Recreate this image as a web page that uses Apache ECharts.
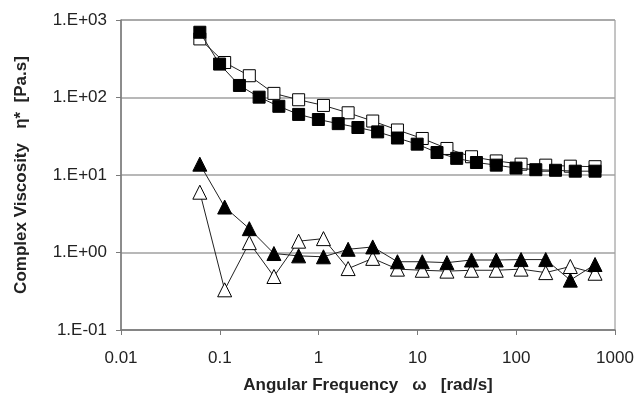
<!DOCTYPE html>
<html>
<head>
<meta charset="utf-8">
<script src="https://cdn.jsdelivr.net/npm/echarts@6/dist/echarts.min.js"></script>
<style>
  html, body { margin: 0; padding: 0; background: #fff; }
  #main { width: 637px; height: 399px; }
</style>
</head>
<body>
<div id="main"></div>
<script>
// angular frequencies (rad/s)
var freqFine = [0.0628, 0.0995, 0.158, 0.250, 0.396, 0.628, 0.995, 1.58, 2.50, 3.96, 6.28,
    9.95, 15.8, 25.0, 39.6, 62.8, 99.5, 158, 250, 396, 628];
var freqCoarse = [0.0628, 0.112, 0.199, 0.353, 0.628, 1.12, 1.99, 3.53, 6.28,
    11.2, 19.9, 35.3, 62.8, 112, 199, 353, 628];

// complex viscosity (Pa.s)
var filledSquares = [695, 270, 143, 101, 77, 60.5, 52, 46, 41, 36, 30,
    25, 19.5, 16.4, 14.5, 13.4, 12.3, 11.7, 11.5, 11.2, 11.2];
var openSquares = [570, 283, 191, 113, 93.5, 79, 63.5, 49.7, 38.1,
    29.6, 22.0, 17.2, 15.2, 13.8, 13.4, 13.0, 12.8];
var filledTriangles = [13.8, 3.86, 2.03, 0.97, 0.905, 0.88, 1.10, 1.18, 0.76,
    0.76, 0.74, 0.80, 0.80, 0.81, 0.81, 0.44, 0.70];
var openTriangles = [6.0, 0.33, 1.34, 0.49, 1.40, 1.51, 0.62, 0.84, 0.61,
    0.59, 0.575, 0.59, 0.59, 0.61, 0.55, 0.66, 0.54];

var xTickLabels = ['0.01', '0.1', '1', '10', '100', '1000'];

function pairs(xs, ys) {
    var r = [];
    for (var i = 0; i < ys.length; i++) {
        r.push([xs[i], ys[i]]);
    }
    return r;
}

function sciLabel(v) {
    var e = Math.round(Math.log10(v));
    var s = Math.abs(e) < 10 ? '0' + Math.abs(e) : '' + Math.abs(e);
    return '1.E' + (e < 0 ? '-' : '+') + s;
}

function makeSeries(data, symbol, filled, z) {
    return {
        type: 'line',
        data: data,
        symbol: symbol,
        symbolSize: symbol == 'rect' ? 12 : 14,
        showAllSymbol: true,
        z: z,
        lineStyle: { color: '#222', width: 1 },
        itemStyle: {
            color: filled ? '#000' : '#fff',
            borderColor: '#000',
            borderWidth: 1
        },
        emphasis: { disabled: true },
        animation: false
    };
}

var font = 'Arial, "Liberation Sans", sans-serif';
var myChart = echarts.init(document.getElementById('main'));

var option = {
    backgroundColor: '#fff',
    animation: false,
    grid: {
        left: 121,
        right: 22,
        top: 20,
        bottom: 67,
        show: true,
        borderColor: '#8a8a8a',
        borderWidth: 1
    },
    xAxis: {
        type: 'log',
        logBase: 10,
        min: 0.01,
        max: 1000,
        name: 'Angular Frequency   \u03c9   [rad/s]',
        nameLocation: 'middle',
        nameGap: 47,
        nameTextStyle: { fontFamily: font, fontSize: 17, fontWeight: 'bold', color: '#222' },
        axisLine: { lineStyle: { color: '#7a7a7a', width: 1.5 } },
        axisTick: { show: true, inside: false, length: 5, lineStyle: { color: '#7a7a7a' } },
        minorTick: { show: false },
        splitLine: { show: false },
        axisLabel: {
            fontFamily: font,
            fontSize: 17,
            color: '#222',
            margin: 20,
            formatter: function (v) {
                var e = Math.round(Math.log10(v));
                return xTickLabels[e + 2];
            }
        }
    },
    yAxis: {
        type: 'log',
        logBase: 10,
        min: 0.1,
        max: 1000,
        name: 'Complex Viscosity   \u03b7*  [Pa.s]',
        nameLocation: 'middle',
        nameGap: 91,
        nameRotate: 90,
        nameTextStyle: { fontFamily: font, fontSize: 17, fontWeight: 'bold', color: '#222' },
        axisLine: { show: true, lineStyle: { color: '#7a7a7a', width: 1.5 } },
        axisTick: { show: true, inside: false, length: 5, lineStyle: { color: '#7a7a7a' } },
        splitLine: { show: true, lineStyle: { color: '#a0a0a0', width: 1.5 } },
        axisLabel: {
            fontFamily: font,
            fontSize: 17,
            color: '#222',
            margin: 14,
            formatter: sciLabel
        }
    },
    series: [
        makeSeries(pairs(freqCoarse, openSquares), 'rect', false, 2),
        makeSeries(pairs(freqFine, filledSquares), 'rect', true, 3),
        makeSeries(pairs(freqCoarse, openTriangles), 'triangle', false, 4),
        makeSeries(pairs(freqCoarse, filledTriangles), 'triangle', true, 5)
    ]
};

myChart.setOption(option);
</script>
</body>
</html>
